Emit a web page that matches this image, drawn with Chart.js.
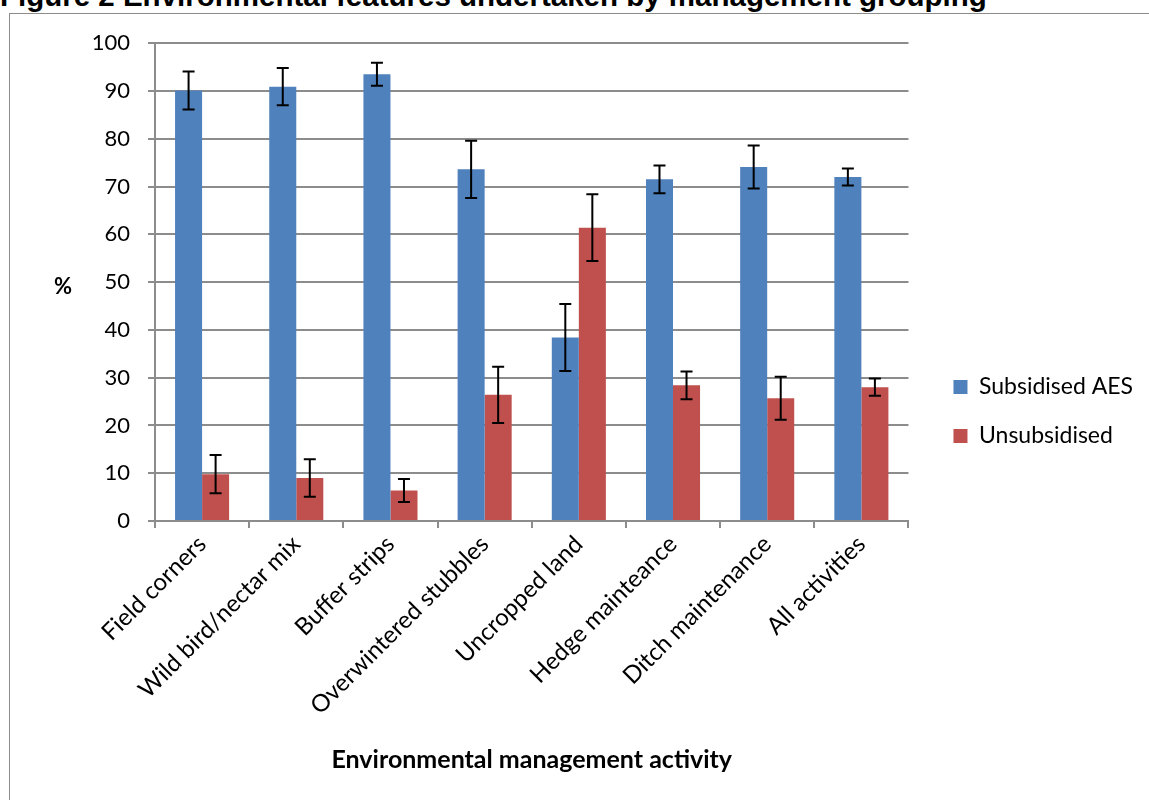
<!DOCTYPE html>
<html>
<head>
<meta charset="utf-8">
<script src="https://cdn.jsdelivr.net/npm/chart.js@4"></script>
<style>
  html, body { margin: 0; padding: 0; background: #fff; overflow: hidden; }
  #title {
    position: absolute; left: 0; top: -21px; line-height: 30px;
    font: bold 29.5px "Liberation Sans", Arial, sans-serif; color: #000;
    white-space: nowrap;
  }
  #frame {
    position: absolute; left: 9px; top: 13px; width: 1160px; height: 800px;
    border: 1px solid #8c8c8c;
  }
  #box { position: absolute; left: 13px; top: 12px; width: 1136px; height: 788px; }
</style>
</head>
<body>
<div id="title">Figure 2 Environmental features undertaken by management grouping</div>
<div id="frame"></div>
<div id="box"><canvas id="chart"></canvas></div>
<script>
const categories = ['Field corners', 'Wild bird/nectar mix', 'Buffer strips', 'Overwintered stubbles',
  'Uncropped land', 'Hedge mainteance', 'Ditch maintenance', 'All activities'];

const subsidised = [90.1, 90.9, 93.5, 73.6, 38.4, 71.5, 74.1, 72.0];
const subsidisedErr = [4.0, 3.9, 2.4, 6.0, 7.0, 2.9, 4.5, 1.8];
const unsubsidised = [9.8, 9.0, 6.4, 26.4, 61.4, 28.4, 25.7, 28.0];
const unsubsidisedErr = [4.0, 3.9, 2.4, 5.9, 7.0, 2.9, 4.5, 1.8];

const yTicks = [0, 10, 20, 30, 40, 50, 60, 70, 80, 90, 100];

const gridColor = '#8c8c8c';
const font = 'Lato';

// error bars drawn on top of each bar
const errorBars = {
  id: 'errorBars',
  afterDatasetsDraw(chart) {
    const ctx = chart.ctx;
    const y = chart.scales.y;
    ctx.save();
    ctx.strokeStyle = '#000';
    ctx.lineWidth = 2;
    chart.data.datasets.forEach((ds, i) => {
      const meta = chart.getDatasetMeta(i);
      meta.data.forEach((bar, j) => {
        const v = ds.data[j], e = ds.errors[j];
        const top = y.getPixelForValue(v + e);
        const bot = y.getPixelForValue(v - e);
        ctx.beginPath();
        ctx.moveTo(bar.x, top); ctx.lineTo(bar.x, bot);
        ctx.moveTo(bar.x - 6, top); ctx.lineTo(bar.x + 6, top);
        ctx.moveTo(bar.x - 6, bot); ctx.lineTo(bar.x + 6, bot);
        ctx.stroke();
      });
    });
    ctx.restore();
  }
};

// the "%" label sits horizontally left of the y axis
const percentLabel = {
  id: 'percentLabel',
  afterDraw(chart) {
    const ctx = chart.ctx;
    const a = chart.chartArea;
    ctx.save();
    ctx.font = 'bold 22px ' + font;
    ctx.fillStyle = '#000';
    ctx.textAlign = 'center';
    ctx.textBaseline = 'middle';
    ctx.fillText('%', a.left - 92, (a.top + a.bottom) / 2 + 5);
    ctx.restore();
  }
};

// push legend a bit further away from the plot
const legendShift = {
  id: 'legendShift',
  afterLayout(chart) {
    chart.legend.left += 19;
    chart.legend.right += 19;
  }
};

new Chart(document.getElementById('chart'), {
  type: 'bar',
  data: {
    labels: categories,
    datasets: [
      { label: 'Subsidised AES', data: subsidised, errors: subsidisedErr, backgroundColor: '#4f81bd' },
      { label: 'Unsubsidised', data: unsubsidised, errors: unsubsidisedErr, backgroundColor: '#c0504d' }
    ]
  },
  plugins: [errorBars, percentLabel, legendShift],
  options: {
    responsive: true,
    maintainAspectRatio: false,
    animation: false,
    categoryPercentage: 0.574,
    barPercentage: 1,
    layout: { padding: { top: 11, right: 25, bottom: 0, left: 0 } },
    plugins: {
      tooltip: { enabled: false },
      legend: {
        position: 'right',
        labels: {
          boxWidth: 14, boxHeight: 14, padding: 26,
          color: '#000', font: { family: font, size: 23 }
        }
      }
    },
    scales: {
      x: {
        offset: true,
        grid: { offset: true, drawOnChartArea: false, color: gridColor, lineWidth: 2, tickLength: 7 },
        border: { color: gridColor, width: 2 },
        ticks: { color: '#000', font: { family: font, size: 24 }, minRotation: 45, maxRotation: 45, padding: 2, autoSkip: false },
        title: {
          display: true, text: 'Environmental management activity', color: '#000',
          font: { family: font, size: 25, weight: 'bold' }, padding: { top: 0, bottom: 25 }
        },
        afterFit(s) { s.height = 279; }
      },
      y: {
        min: 0, max: 100,
        afterBuildTicks(s) { s.ticks = yTicks.map(v => ({ value: v })); },
        grid: { color: gridColor, lineWidth: 2, tickLength: 7 },
        border: { color: gridColor, width: 2 },
        ticks: { color: '#000', font: { family: font, size: 22 }, padding: 18 },
        afterFit(s) { s.width = 142; }
      }
    }
  }
});
</script>
</body>
</html>
